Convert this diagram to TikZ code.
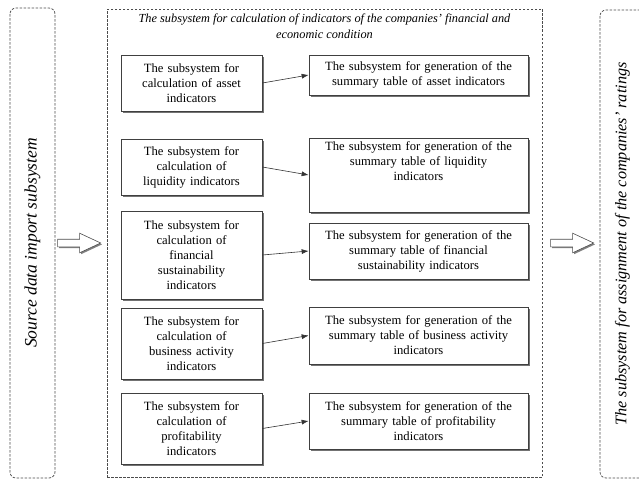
\documentclass[tikz,border=0pt]{standalone}
\usepackage{fontspec}
\setmainfont{Liberation Serif}
\usetikzlibrary{positioning,shapes.arrows,shadows,arrows.meta}

\begin{document}
\begin{tikzpicture}[x=1pt, y=-1pt,
  font=\fontsize{12.6}{15}\selectfont,
  sub/.style = {draw=black!75, line width=0.7pt, fill=white, align=center, inner sep=3pt,
    drop shadow={shadow xshift=1.6pt, shadow yshift=-1.6pt, fill=black!55, opacity=1}},
  calcbox/.style = {sub, text width=135pt},
  sumbox/.style = {sub, text width=213pt},
  frame/.style = {draw=black!70, line width=0.7pt, dash pattern=on 2.5pt off 1.5pt},
  sidebox/.style = {frame, rotate=90, rounded corners=6pt, minimum height=45pt},
  bigarrow/.style = {single arrow, draw=black!70, line width=0.6pt, fill=white,
    minimum height=43pt, single arrow head extend=6pt, single arrow tip angle=50,
    inner sep=3.5pt, drop shadow={shadow xshift=1.4pt, shadow yshift=-1.4pt, fill=black!50, opacity=1}},
  conn/.style = {-{Latex[length=7pt,width=5pt]}, draw=black!80, line width=0.6pt}]
\path[use as bounding box, fill=white] (0,0) rectangle (639,479);

% outer subsystems
\node[sidebox, minimum width=470pt, font=\fontsize{17.5}{18}\selectfont\itshape] (src) at (32.5,243)
  {Source data import subsystem};
\node[frame, minimum width=435pt, minimum height=468pt] (calc) at (324.5,243) {};
\node[below=2pt of calc.north, align=center, font=\fontsize{12.3}{16}\selectfont\itshape] (calctitle)
  {The subsystem for calculation of indicators of the companies' financial and\\ economic condition};
\node[sidebox, minimum width=468pt, font=\fontsize{16.2}{18}\selectfont\itshape] (rate) at (622.5,244)
  {The subsystem for assignment of the companies' ratings};

\node[bigarrow, right=2pt of src.south] (in) {};
\node[bigarrow, right=8pt of calc.east] (out) {};

% calculation subsystems
\node[calcbox, minimum height=56pt] (asset) at (191.5,83) {The subsystem for\\ calculation of asset\\ indicators};
\node[calcbox, minimum height=56pt] (liq) at (191.5,167) {The subsystem for\\ calculation of\\ liquidity indicators};
\node[calcbox, minimum height=88pt] (fin) at (191.5,255) {The subsystem for\\ calculation of\\ financial\\ sustainability\\ indicators};
\node[calcbox, minimum height=71pt] (bus) at (191.5,343.5) {The subsystem for\\ calculation of\\ business activity\\ indicators};
\node[calcbox, minimum height=71pt] (prof) at (191.5,428.5) {The subsystem for\\ calculation of\\ profitability\\ indicators};

% summary tables
\node[sumbox, minimum height=40pt] (assettab) at (418.5,75) {The subsystem for generation of the\\ summary table of asset indicators};
\node[sumbox, text height=9pt, text depth=59pt] (liqtab) at (418.5,175) {The subsystem for generation of the\\ summary table of liquidity\\ indicators};
\node[sumbox, minimum height=56pt] (fintab) at (418.5,251) {The subsystem for generation of the\\ summary table of financial\\ sustainability indicators};
\node[sumbox, minimum height=57pt] (bustab) at (418.5,335.5) {The subsystem for generation of the\\ summary table of business activity\\ indicators};
\node[sumbox, minimum height=56pt] (proftab) at (418.5,421) {The subsystem for generation of the\\ summary table of profitability\\ indicators};

\foreach \a/\b in {asset/assettab, liq/liqtab, fin/fintab, bus/bustab, prof/proftab}
  \draw[conn] (\a.east) -- (\b.west);
\end{tikzpicture}
\end{document}
